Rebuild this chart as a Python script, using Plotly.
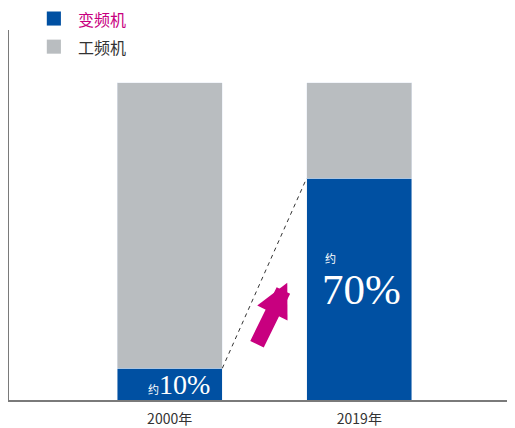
import plotly.graph_objects as go

YEARS = ["2000年", "2019年"]
INVERTER = [10, 70]       # 变频机 share (%)
FIXED = [90, 30]          # 工频机 share (%)
LABELS = ["10%", "70%"]

BLUE = "#0050A2"
GRAY = "#B9BDC0"
MAGENTA = "#C8007F"
AXIS = "#7A7A7A"
CJK = "Noto Sans CJK SC"
SERIF = "Liberation Serif"
BAR_W = 0.555

fig = go.Figure()
fig.add_trace(go.Bar(x=[0, 1], y=INVERTER, name="变频机", marker_color=BLUE,
                     width=BAR_W, showlegend=False, hoverinfo="skip"))
fig.add_trace(go.Bar(x=[0, 1], y=FIXED, name="工频机", marker_color=GRAY,
                     width=BAR_W, showlegend=False, hoverinfo="skip"))

# dashed connector between blue tops
fig.add_shape(type="line", xref="x", yref="y",
              x0=0 + BAR_W / 2, y0=INVERTER[0], x1=1 - BAR_W / 2, y1=INVERTER[1],
              line=dict(color="#333333", width=1, dash="4px,4px"))

# magenta arrow
fig.add_annotation(x=0.62, y=37, xref="x", yref="y", ax=-31, ay=63,
                   showarrow=True, arrowhead=2, arrowsize=0.45, arrowwidth=15,
                   arrowcolor=MAGENTA, text="")

# value labels
fig.add_annotation(x=0.05, y=5, xref="x", yref="y", showarrow=False,
                   text=f"<span style='font-family:{CJK};font-size:11px'>约</span>{LABELS[0]}",
                   font=dict(family=SERIF, size=28, color="white"))
fig.add_annotation(x=0.81, y=44.8, xref="x", yref="y", showarrow=False, xanchor="left",
                   text="约", font=dict(family=CJK, size=11, color="white"))
fig.add_annotation(x=0.79, y=34.7, xref="x", yref="y", showarrow=False, xanchor="left",
                   text=LABELS[1], font=dict(family=SERIF, size=43, color="white"))

# legend drawn by hand (per-item text colours)
legend = [("变频机", BLUE, MAGENTA, 1.031), ("工频机", GRAY, "#333333", 0.955)]
for name, sw, tc, yy in legend:
    fig.add_shape(type="rect", xref="paper", yref="paper",
                  x0=0.075, x1=0.103, y0=yy - 0.019, y1=yy + 0.019,
                  fillcolor=sw, line_width=0)
    fig.add_annotation(x=0.133, y=yy, xref="paper", yref="paper", showarrow=False,
                       xanchor="left", yanchor="middle", text=name,
                       font=dict(family=CJK, size=16, color=tc))

# page body has an 8px margin, so the plot area is offset to compensate
fig.update_layout(
    barmode="stack",
    width=515, height=428,
    margin=dict(l=1, r=10, t=22, b=36, pad=0),
    plot_bgcolor="white", paper_bgcolor="white",
    showlegend=False,
)
fig.update_xaxes(range=[-0.847, 1.81], tickvals=[0, 1], ticktext=YEARS, automargin=False,
                 showline=True, linecolor=AXIS, linewidth=1.5, showgrid=False,
                 zeroline=False, ticks="", ticklabelstandoff=5,
                 tickfont=dict(family=CJK, size=14, color="#333333"))
fig.update_yaxes(range=[0, 116.7], showline=True, linecolor=AXIS, linewidth=1.5, automargin=False,
                 showgrid=False, zeroline=False, showticklabels=False, ticks="")

fig.write_html("out.html", config={"displayModeBar": False})
